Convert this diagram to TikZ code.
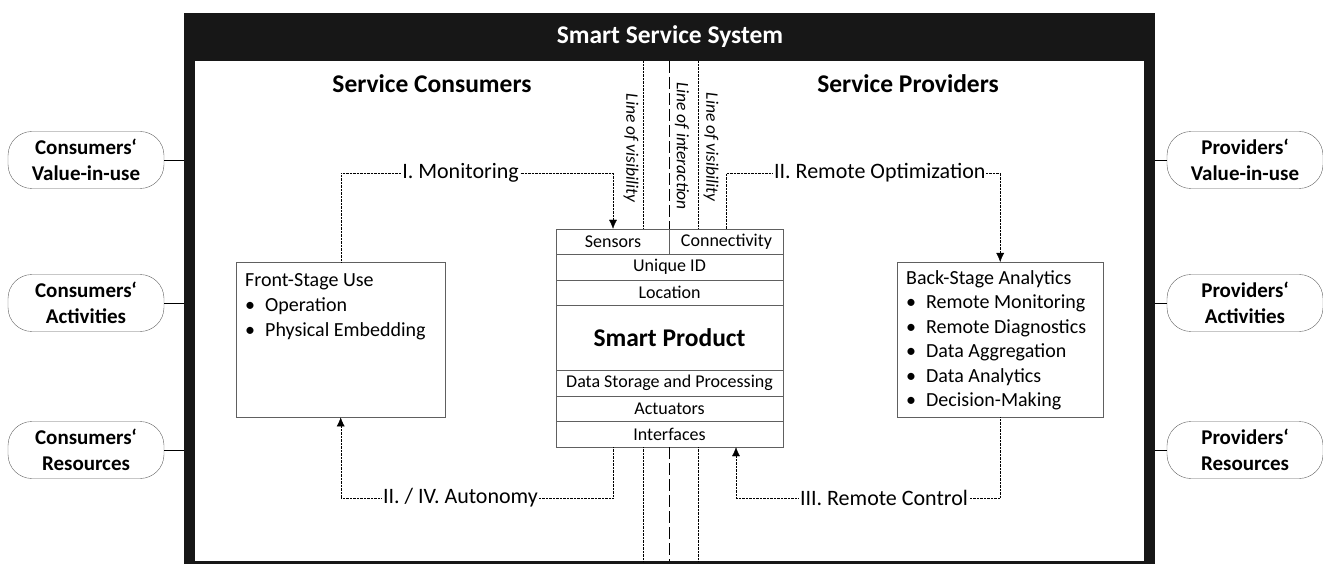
\documentclass[tikz,border=0pt]{standalone}
\usepackage{fontspec}
\setmainfont{Carlito}
\usetikzlibrary{arrows.meta}
\usetikzlibrary{calc}
\definecolor{frameblack}{HTML}{171717}
\definecolor{boxgray}{HTML}{606060}
\tikzset{side label/.style={draw=boxgray,rounded corners=24pt,minimum width=156pt,minimum height=57pt,align=center,inner sep=0pt,font=\bfseries\fontsize{21}{26}\selectfont}}
\tikzset{part/.style={draw=boxgray,minimum height=25.5pt,inner sep=0pt,font=\fontsize{18}{18}\selectfont}}
\tikzset{stage box/.style={draw=boxgray,anchor=north west,minimum width=209pt,minimum height=155pt,inner sep=0pt}}
\tikzset{stage text/.style={anchor=north west,align=left,inner sep=0pt,font=\fontsize{20}{25}\selectfont}}
\tikzset{flow/.style={densely dotted,-{Latex[length=9pt,width=8pt]}}}
\tikzset{flow label/.style={fill=white,inner sep=1pt,font=\fontsize{22}{22}\selectfont}}
\tikzset{vis line/.style={densely dotted}}
\tikzset{act line/.style={line width=1.6pt,dash pattern=on 12pt off 4pt}}
\tikzset{line label/.style={rotate=-90,inner sep=0pt,font=\itshape\fontsize{17.5}{17.5}\selectfont}}
\def\bul{\makebox[20pt][l]{\textbullet}}

\begin{document}
\begin{tikzpicture}[x=1pt,y=-1pt]
  \useasboundingbox (0,0) rectangle (1323,564);

  % system frame
  \node[fill=frameblack,anchor=north west,minimum width=971pt,minimum height=551pt,inner sep=0pt] (sys) at (184,13) {};
  \fill[white] (195,61) rectangle (1144,561);
  \node[text=white,font=\bfseries\fontsize{25.5}{25.5}\selectfont] (title) at (670,37) {Smart Service System};
  \node[font=\bfseries\fontsize{25.5}{25.5}\selectfont] (consumers) at (432,84) {Service Consumers};
  \node[font=\bfseries\fontsize{25.5}{25.5}\selectfont] (providers) at (908,84) {Service Providers};

  % outside labels
  \node[side label] (cvalue) at (86,160) {Consumers‘\\Value-in-use};
  \node[side label] (cact) at (86,303) {Consumers‘\\Activities};
  \node[side label] (cres) at (86,450) {Consumers‘\\Resources};
  \node[side label] (pvalue) at (1245,160) {Providers‘\\Value-in-use};
  \node[side label] (pact) at (1245,303) {Providers‘\\Activities};
  \node[side label] (pres) at (1245,450) {Providers‘\\Resources};
  \draw (cvalue.east) -- (cvalue.east -| sys.west);
  \draw (cact.east) -- (cact.east -| sys.west);
  \draw (cres.east) -- (cres.east -| sys.west);
  \draw (pvalue.west) -- (pvalue.west -| sys.east);
  \draw (pact.west) -- (pact.west -| sys.east);
  \draw (pres.west) -- (pres.west -| sys.east);

  % smart product
  \node[part,minimum width=113pt] (sens) at (613,241.75) {Sensors};
  \node[part,minimum width=114pt] (conn) at (726.5,241.75) {Connectivity};
  \node[part,minimum width=227pt] (uid) at (669.5,267.25) {Unique ID};
  \node[part,minimum width=227pt] (loc) at (669.5,292.75) {Location};
  \node[part,minimum width=227pt,minimum height=65pt,font=\bfseries\fontsize{25.5}{25.5}\selectfont] (prod) at (669.5,338) {Smart Product};
  \node[part,minimum width=227pt] (data) at (669.5,383.25) {Data Storage and Processing};
  \node[part,minimum width=227pt] (act) at (669.5,408.75) {Actuators};
  \node[part,minimum width=227pt] (intf) at (669.5,434.25) {Interfaces};

  % lines of visibility and interaction
  \coordinate (visL) at (643.5,61);
  \coordinate (inter) at (669.5,61);
  \coordinate (visR) at (698,61);
  \coordinate (bottom) at (0,561);
  \draw[vis line] (visL) -- (visL |- sens.north);
  \draw[vis line] (visL |- intf.south) -- (visL |- bottom);
  \draw[act line] (inter) -- (inter |- sens.north);
  \draw[act line] (inter |- intf.south) -- (inter |- bottom);
  \draw[vis line] (visR) -- (visR |- sens.north);
  \draw[vis line] (visR |- intf.south) -- (visR |- bottom);
  \node[line label] (visLlabel) at (631,148) {Line of visibility};
  \node[line label] (interlabel) at (682,146) {Line of interaction};
  \node[line label] (visRlabel) at (711,147) {Line of visibility};

  % front stage and back stage
  \node[stage box] (fstage) at (236,262) {};
  \node[stage text] (fstagetext) at (245,273) {Front-Stage Use\\\bul Operation\\\bul Physical Embedding};
  \node[stage box,minimum width=206pt] (bstage) at (897,262) {};
  \node[stage text,font=\fontsize{20}{24.5}\selectfont] (bstagetext) at (906,270) {Back-Stage Analytics\\\bul Remote Monitoring\\\bul Remote Diagnostics\\\bul Data Aggregation\\\bul Data Analytics\\\bul Decision-Making};

  % flows
  \coordinate (upper) at (0,173);
  \coordinate (lower) at (0,498);
  \coordinate (ctrl) at ([xshift=66.5pt]intf.south);
  \draw[flow] (fstage.north) -- (fstage.north |- upper) -- node[flow label,pos=0.44] {I. Monitoring} (sens.north |- upper) -- (sens.north);
  \draw[flow] (conn.north) -- (conn.north |- upper) -- node[flow label,pos=0.56] {II. Remote Optimization} (bstage.north |- upper) -- (bstage.north);
  \draw[flow] (intf.south -| sens.north) -- (sens.north |- lower) -- node[flow label,pos=0.56] {II. / IV. Autonomy} (fstage.south |- lower) -- (fstage.south);
  \draw[flow] (bstage.south) -- (bstage.south |- lower) -- node[flow label,pos=0.44] {III. Remote Control} (ctrl |- lower) -- (ctrl);

\end{tikzpicture}
\end{document}
